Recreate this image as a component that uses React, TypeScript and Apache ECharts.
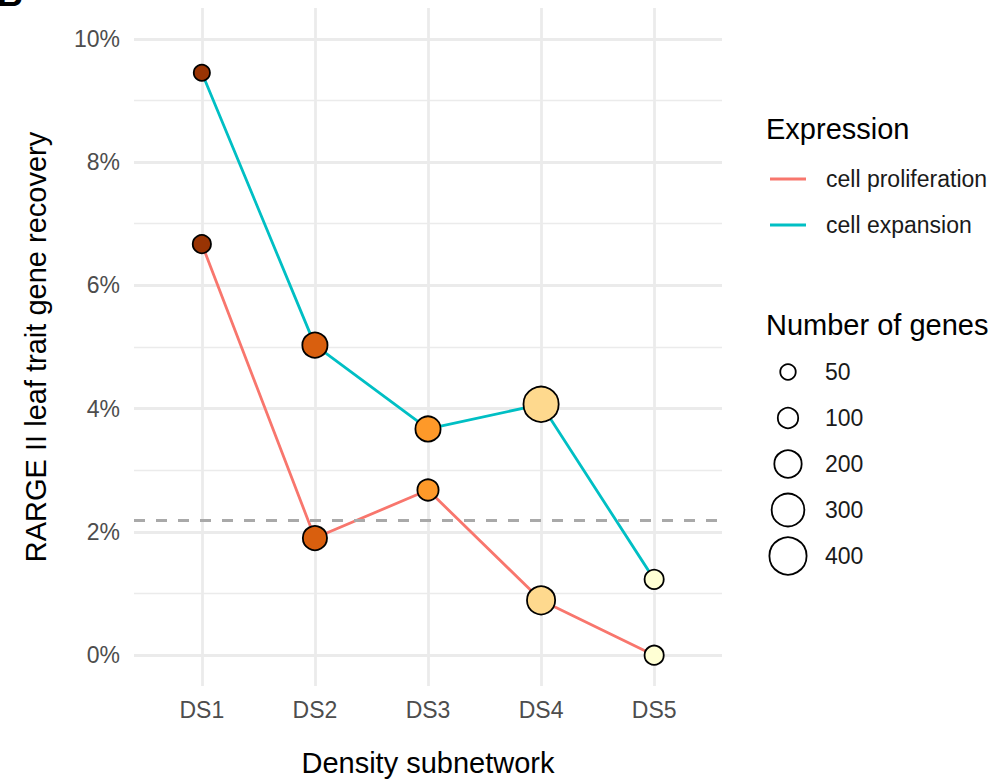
import React, { useEffect, useRef } from "react";
import * as echarts from "echarts";

const categories = ["DS1", "DS2", "DS3", "DS4", "DS5"];
const seriesNames = ["cell proliferation", "cell expansion"];
const proliferation = [6.67, 1.9, 2.68, 0.89, 0.0];
const expansion = [9.45, 5.03, 3.67, 4.07, 1.23];
const proliferationGenes = [76, 150, 110, 214, 86];
const expansionGenes = [56, 165, 165, 354, 86];
const dsColors = ["#993404", "#D95F0E", "#FE9929", "#FED98E", "#FFFFD4"];
const lineColors = ["#F8766D", "#00BFC4"];
const baselineValue = 2.19;
const yTicks = [0, 2, 4, 6, 8, 10];
const yMinorTicks = [1, 3, 5, 7, 9];
const sizeBreaks = [50, 100, 200, 300, 400];

const FONT = "'Liberation Sans', Arial, Helvetica, sans-serif";
const STROKE = 1.8;
const outerDiameter = (n: number) => 5.4 + 1.68 * Math.sqrt(n);
const symbolSize = (n: number) => outerDiameter(n) - STROKE;

export default function App() {
  const ref = useRef<HTMLDivElement>(null);

  useEffect(() => {
    if (!ref.current) return;
    const chart = echarts.init(ref.current, undefined, { renderer: "svg" });
    const xIdx = categories.map((_, i) => i + 1);

    const pointData = (vals: number[], genes: number[]) =>
      vals.map((v, i) => ({
        value: [xIdx[i], v],
        symbolSize: symbolSize(genes[i]),
        itemStyle: { color: dsColors[i], borderColor: "#000000", borderWidth: STROKE, opacity: 1 },
      }));

    const graphic: any[] = [
      {
        type: "text",
        left: -3,
        top: -25,
        style: { text: "B", font: `bold 36px ${FONT}`, fill: "#000" },
      },
      {
        type: "text",
        x: 766,
        y: 129,
        style: { text: "Expression", font: `29px ${FONT}`, fill: "#000", verticalAlign: "middle", align: "left" },
      },
      {
        type: "text",
        x: 766,
        y: 325,
        style: { text: "Number of genes", font: `29px ${FONT}`, fill: "#000", verticalAlign: "middle", align: "left" },
      },
    ];
    seriesNames.forEach((name, i) => {
      const y = 179 + 46 * i;
      graphic.push({
        type: "line",
        shape: { x1: 770, y1: y, x2: 806, y2: y },
        style: { stroke: lineColors[i], lineWidth: 2.8 },
      });
      graphic.push({
        type: "text",
        x: 826,
        y,
        style: { text: name, font: `23px ${FONT}`, fill: "#1A1A1A", verticalAlign: "middle", align: "left" },
      });
    });
    sizeBreaks.forEach((b, i) => {
      const y = 372 + 46 * i;
      graphic.push({
        type: "circle",
        shape: { cx: 788, cy: y, r: symbolSize(b) / 2 },
        style: { fill: "#ffffff", stroke: "#000000", lineWidth: STROKE },
      });
      graphic.push({
        type: "text",
        x: 825,
        y,
        style: { text: String(b), font: `23px ${FONT}`, fill: "#1A1A1A", verticalAlign: "middle", align: "left" },
      });
    });

    const option: any = {
      animation: false,
      backgroundColor: "#ffffff",
      textStyle: { fontFamily: FONT },
      grid: { left: 134, top: 8, width: 588, height: 678, containLabel: false, outerBoundsMode: "none" },
      xAxis: {
        type: "value",
        min: 0.4,
        max: 5.6,
        axisLine: { show: false },
        axisTick: { show: false, customValues: xIdx },
        axisLabel: {
          customValues: xIdx,
          formatter: (v: number) => categories[Math.round(v) - 1] ?? "",
          fontSize: 23,
          color: "#4D4D4D",
          fontFamily: FONT,
          margin: 12,
        },
        splitLine: { show: true, lineStyle: { color: "#EBEBEB", width: 2.8 } },
        name: "Density subnetwork",
        nameLocation: "middle",
        nameGap: 62,
        nameTextStyle: { fontSize: 29, color: "#000", fontFamily: FONT },
      },
      yAxis: [
        {
          type: "value",
          min: -0.5,
          max: 10.5,
          axisLine: { show: false },
          axisTick: { show: false, customValues: yTicks },
          axisLabel: {
            customValues: yTicks,
            formatter: (v: number) => `${v}%`,
            fontSize: 23,
            color: "#4D4D4D",
            fontFamily: FONT,
            margin: 14,
          },
          splitLine: { show: true, lineStyle: { color: "#EBEBEB", width: 2.8 } },
          name: "RARGE II leaf trait gene recovery",
          nameLocation: "middle",
          nameRotate: 90,
          nameGap: 84,
          nameTextStyle: { fontSize: 29, color: "#000", fontFamily: FONT },
        },
        {
          type: "value",
          min: -0.5,
          max: 10.5,
          position: "right",
          axisLine: { show: false },
          axisTick: { show: false, customValues: yMinorTicks },
          axisLabel: { show: false, customValues: yMinorTicks },
          splitLine: { show: true, lineStyle: { color: "#EBEBEB", width: 1.4 } },
        },
      ],
      series: [
        {
          name: seriesNames[0],
          type: "line",
          data: proliferation.map((v, i) => [xIdx[i], v]),
          symbol: "none",
          lineStyle: { color: lineColors[0], width: 2.8 },
          z: 2,
        },
        {
          name: seriesNames[1],
          type: "line",
          data: expansion.map((v, i) => [xIdx[i], v]),
          symbol: "none",
          lineStyle: { color: lineColors[1], width: 2.8 },
          z: 2,
        },
        {
          name: "baseline",
          type: "line",
          data: [],
          z: 3,
          markLine: {
            silent: true,
            symbol: ["none", "none"],
            label: { show: false },
            lineStyle: { color: "#A9A9A9", width: 2.8, type: [11, 11] },
            data: [{ yAxis: baselineValue }],
          },
        },
        {
          name: seriesNames[0] + " genes",
          type: "scatter",
          data: pointData(proliferation, proliferationGenes),
          itemStyle: { opacity: 1 },
          z: 4,
        },
        {
          name: seriesNames[1] + " genes",
          type: "scatter",
          data: pointData(expansion, expansionGenes),
          itemStyle: { opacity: 1 },
          z: 4,
        },
      ],
      graphic,
    };
    chart.setOption(option);
    return () => chart.dispose();
  }, []);

  return (
    <div
      ref={ref}
      style={{ position: "absolute", left: 0, top: 0, width: 999, height: 780 }}
    />
  );
}
